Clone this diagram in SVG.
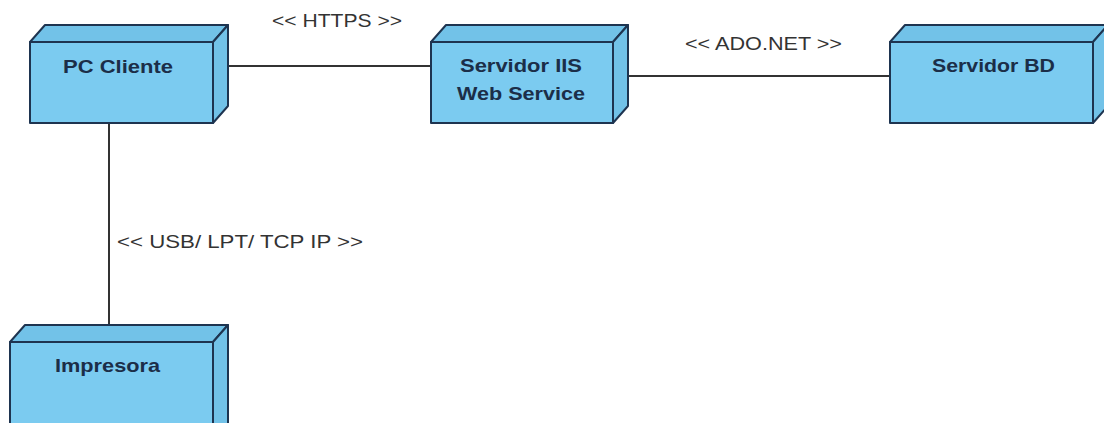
<svg xmlns="http://www.w3.org/2000/svg" width="1104" height="423" viewBox="0 0 1104 423">
<style>
.face{fill:#7BCBF0;stroke:#1E3450;stroke-width:2;stroke-linejoin:round}
.side{fill:#72C2E8;stroke:#1E3450;stroke-width:2;stroke-linejoin:round}
.name{font-family:"Liberation Sans",Arial,sans-serif;font-weight:bold;font-size:19px;fill:#1B2E48}
.lbl{font-family:"Liberation Sans",Arial,sans-serif;font-size:19px;fill:#333}
.conn{stroke:#333;stroke-width:2;fill:none}
</style>
<rect width="1104" height="423" fill="#fff"/>
<g id="connectors">
<line class="conn" x1="228" y1="66" x2="431" y2="66"/>
<line class="conn" x1="628" y1="76" x2="890" y2="76"/>
<line class="conn" x1="109" y1="123" x2="109" y2="325"/>
<text class="lbl" x="272" y="27" textLength="130" lengthAdjust="spacingAndGlyphs">&lt;&lt; HTTPS &gt;&gt;</text>
<text class="lbl" x="685" y="50" textLength="157" lengthAdjust="spacingAndGlyphs">&lt;&lt; ADO.NET &gt;&gt;</text>
<text class="lbl" x="117" y="248" textLength="246" lengthAdjust="spacingAndGlyphs">&lt;&lt; USB/ LPT/ TCP IP &gt;&gt;</text>
</g>
<g id="pc-cliente">
<polygon class="side" points="30,42 45,25 228,25 213,42"/>
<polygon class="side" points="213,42 228,25 228,106 213,123"/>
<rect class="face" x="30" y="42" width="183" height="81"/>
<text class="name" x="63" y="73" textLength="110" lengthAdjust="spacingAndGlyphs">PC Cliente</text>
</g>
<g id="servidor-iis">
<polygon class="side" points="431,42 446,25 628,25 613,42"/>
<polygon class="side" points="613,42 628,25 628,106 613,123"/>
<rect class="face" x="431" y="42" width="182" height="81"/>
<text class="name" x="460" y="72" textLength="122" lengthAdjust="spacingAndGlyphs">Servidor IIS</text>
<text class="name" x="457" y="100" textLength="128" lengthAdjust="spacingAndGlyphs">Web Service</text>
</g>
<g id="servidor-bd">
<polygon class="side" points="890,42 905,25 1108,25 1093,42"/>
<polygon class="side" points="1093,42 1108,25 1108,106 1093,123"/>
<rect class="face" x="890" y="42" width="203" height="81"/>
<text class="name" x="932" y="72" textLength="123" lengthAdjust="spacingAndGlyphs">Servidor BD</text>
</g>
<g id="impresora">
<polygon class="side" points="10,342 25,325 228,325 213,342"/>
<polygon class="side" points="213,342 228,325 228,425 213,440"/>
<rect class="face" x="10" y="342" width="203" height="100"/>
<text class="name" x="55" y="372" textLength="105" lengthAdjust="spacingAndGlyphs">Impresora</text>
</g>
</svg>
